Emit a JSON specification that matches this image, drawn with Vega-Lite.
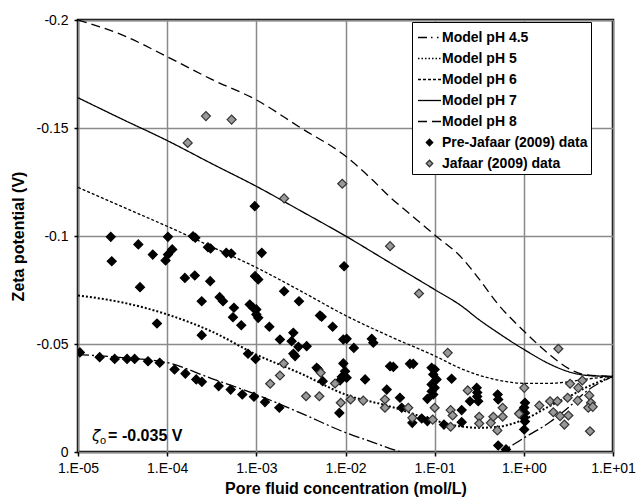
{
  "$schema": "https://vega.github.io/schema/vega-lite/v6.json",
  "width": 535,
  "height": 432,
  "autosize": {"type": "none"},
  "padding": {"left": 78, "top": 20, "right": 24, "bottom": 46},
  "background": "white",
  "config": {
    "font": "Liberation Sans",
    "view": {"stroke": "black", "strokeWidth": 2.5},
    "axis": {
      "labelFont": "Liberation Sans",
      "labelFontSize": 14,
      "labelColor": "black",
      "titleFont": "Liberation Sans",
      "titleFontSize": 16,
      "titleFontWeight": "bold",
      "titleColor": "black",
      "domain": false,
      "tickColor": "black",
      "tickSize": 4,
      "tickWidth": 1.5,
      "gridColor": "#8a8a8a",
      "gridWidth": 1.5,
      "gridOpacity": 1
    }
  },
  "datasets": {
    "models": [
      {"series": "Model pH 4.5", "c": 1e-5, "z": -0.0451},
      {"series": "Model pH 4.5", "c": 3.16e-5, "z": -0.0437},
      {"series": "Model pH 4.5", "c": 1e-4, "z": -0.0414},
      {"series": "Model pH 4.5", "c": 3.16e-4, "z": -0.0340},
      {"series": "Model pH 4.5", "c": 1e-3, "z": -0.0266},
      {"series": "Model pH 4.5", "c": 3.16e-3, "z": -0.0180},
      {"series": "Model pH 4.5", "c": 1e-2, "z": -0.0090},
      {"series": "Model pH 4.5", "c": 2e-2, "z": -0.0046},
      {"series": "Model pH 4.5", "c": 3.16e-2, "z": -0.0016},
      {"series": "Model pH 4.5", "c": 5e-2, "z": 0.0008},
      {"series": "Model pH 4.5", "c": 1e-1, "z": 0.0040},
      {"series": "Model pH 4.5", "c": 2e-1, "z": 0.0045},
      {"series": "Model pH 4.5", "c": 3.16e-1, "z": 0.0030},
      {"series": "Model pH 4.5", "c": 5e-1, "z": 0.0008},
      {"series": "Model pH 4.5", "c": 1, "z": -0.0065},
      {"series": "Model pH 4.5", "c": 2, "z": -0.0141},
      {"series": "Model pH 4.5", "c": 3.16, "z": -0.0206},
      {"series": "Model pH 4.5", "c": 5, "z": -0.0280},
      {"series": "Model pH 4.5", "c": 10, "z": -0.0350},

      {"series": "Model pH 5", "c": 1e-5, "z": -0.0725},
      {"series": "Model pH 5", "c": 3.16e-5, "z": -0.0692},
      {"series": "Model pH 5", "c": 1e-4, "z": -0.0637},
      {"series": "Model pH 5", "c": 3.16e-4, "z": -0.0558},
      {"series": "Model pH 5", "c": 1e-3, "z": -0.0451},
      {"series": "Model pH 5", "c": 3.16e-3, "z": -0.0363},
      {"series": "Model pH 5", "c": 1e-2, "z": -0.0266},
      {"series": "Model pH 5", "c": 3.16e-2, "z": -0.0211},
      {"series": "Model pH 5", "c": 1e-1, "z": -0.0146},
      {"series": "Model pH 5", "c": 2e-1, "z": -0.0118},
      {"series": "Model pH 5", "c": 3.16e-1, "z": -0.0112},
      {"series": "Model pH 5", "c": 5e-1, "z": -0.0116},
      {"series": "Model pH 5", "c": 1, "z": -0.0150},
      {"series": "Model pH 5", "c": 2, "z": -0.0215},
      {"series": "Model pH 5", "c": 3.16, "z": -0.0255},
      {"series": "Model pH 5", "c": 5, "z": -0.0299},
      {"series": "Model pH 5", "c": 10, "z": -0.0350},

      {"series": "Model pH 6", "c": 1e-5, "z": -0.1225},
      {"series": "Model pH 6", "c": 3.16e-5, "z": -0.1135},
      {"series": "Model pH 6", "c": 1e-4, "z": -0.1045},
      {"series": "Model pH 6", "c": 3.16e-4, "z": -0.0950},
      {"series": "Model pH 6", "c": 1e-3, "z": -0.0854},
      {"series": "Model pH 6", "c": 3.16e-3, "z": -0.0745},
      {"series": "Model pH 6", "c": 1e-2, "z": -0.0632},
      {"series": "Model pH 6", "c": 3.16e-2, "z": -0.0535},
      {"series": "Model pH 6", "c": 1e-1, "z": -0.0445},
      {"series": "Model pH 6", "c": 2e-1, "z": -0.0385},
      {"series": "Model pH 6", "c": 3.16e-1, "z": -0.0355},
      {"series": "Model pH 6", "c": 5e-1, "z": -0.0334},
      {"series": "Model pH 6", "c": 1, "z": -0.0318},
      {"series": "Model pH 6", "c": 2, "z": -0.0318},
      {"series": "Model pH 6", "c": 3.16, "z": -0.0325},
      {"series": "Model pH 6", "c": 5, "z": -0.0337},
      {"series": "Model pH 6", "c": 10, "z": -0.0350},

      {"series": "Model pH 7", "c": 1e-5, "z": -0.1640},
      {"series": "Model pH 7", "c": 3.16e-5, "z": -0.1540},
      {"series": "Model pH 7", "c": 1e-4, "z": -0.1442},
      {"series": "Model pH 7", "c": 3.16e-4, "z": -0.1335},
      {"series": "Model pH 7", "c": 1e-3, "z": -0.1230},
      {"series": "Model pH 7", "c": 3.16e-3, "z": -0.1116},
      {"series": "Model pH 7", "c": 1e-2, "z": -0.1000},
      {"series": "Model pH 7", "c": 3.16e-2, "z": -0.0876},
      {"series": "Model pH 7", "c": 1e-1, "z": -0.0752},
      {"series": "Model pH 7", "c": 2e-1, "z": -0.0676},
      {"series": "Model pH 7", "c": 3.16e-1, "z": -0.0612},
      {"series": "Model pH 7", "c": 5e-1, "z": -0.0555},
      {"series": "Model pH 7", "c": 1, "z": -0.0475},
      {"series": "Model pH 7", "c": 2, "z": -0.0405},
      {"series": "Model pH 7", "c": 3.16, "z": -0.0372},
      {"series": "Model pH 7", "c": 5, "z": -0.0355},
      {"series": "Model pH 7", "c": 10, "z": -0.0350},

      {"series": "Model pH 8", "c": 1e-5, "z": -0.2000},
      {"series": "Model pH 8", "c": 3.16e-5, "z": -0.1930},
      {"series": "Model pH 8", "c": 1e-4, "z": -0.1830},
      {"series": "Model pH 8", "c": 3.16e-4, "z": -0.1725},
      {"series": "Model pH 8", "c": 1e-3, "z": -0.1630},
      {"series": "Model pH 8", "c": 3.16e-3, "z": -0.1500},
      {"series": "Model pH 8", "c": 1e-2, "z": -0.1370},
      {"series": "Model pH 8", "c": 2e-2, "z": -0.1260},
      {"series": "Model pH 8", "c": 3.16e-2, "z": -0.1180},
      {"series": "Model pH 8", "c": 5e-2, "z": -0.1110},
      {"series": "Model pH 8", "c": 1e-1, "z": -0.1005},
      {"series": "Model pH 8", "c": 2e-1, "z": -0.0900},
      {"series": "Model pH 8", "c": 3.16e-1, "z": -0.0800},
      {"series": "Model pH 8", "c": 5e-1, "z": -0.0690},
      {"series": "Model pH 8", "c": 1, "z": -0.0560},
      {"series": "Model pH 8", "c": 2, "z": -0.0447},
      {"series": "Model pH 8", "c": 3.16, "z": -0.0387},
      {"series": "Model pH 8", "c": 5, "z": -0.0357},
      {"series": "Model pH 8", "c": 10, "z": -0.0350}
    ],
    "measured": [
      {"series": "Pre-Jafaar (2009) data", "c": 1.05e-5, "z": -0.0461}, {"series": "Pre-Jafaar (2009) data", "c": 1.75e-5, "z": -0.0439},
      {"series": "Pre-Jafaar (2009) data", "c": 2.58e-5, "z": -0.0431}, {"series": "Pre-Jafaar (2009) data", "c": 3.55e-5, "z": -0.0431},
      {"series": "Pre-Jafaar (2009) data", "c": 4.32e-5, "z": -0.0431}, {"series": "Pre-Jafaar (2009) data", "c": 6.1e-5, "z": -0.0420},
      {"series": "Pre-Jafaar (2009) data", "c": 8.25e-5, "z": -0.0413}, {"series": "Pre-Jafaar (2009) data", "c": 1.21e-4, "z": -0.0382},
      {"series": "Pre-Jafaar (2009) data", "c": 1.6e-4, "z": -0.0363}, {"series": "Pre-Jafaar (2009) data", "c": 2.12e-4, "z": -0.0336},
      {"series": "Pre-Jafaar (2009) data", "c": 2.45e-4, "z": -0.0325}, {"series": "Pre-Jafaar (2009) data", "c": 3.78e-4, "z": -0.0305},
      {"series": "Pre-Jafaar (2009) data", "c": 5.15e-4, "z": -0.0289}, {"series": "Pre-Jafaar (2009) data", "c": 6.96e-4, "z": -0.0266},
      {"series": "Pre-Jafaar (2009) data", "c": 9.4e-4, "z": -0.0256}, {"series": "Pre-Jafaar (2009) data", "c": 1.25e-3, "z": -0.0231},
      {"series": "Pre-Jafaar (2009) data", "c": 1.81e-3, "z": -0.0205}, {"series": "Pre-Jafaar (2009) data", "c": 7.69e-5, "z": -0.0595},
      {"series": "Pre-Jafaar (2009) data", "c": 2.44e-4, "z": -0.0541}, {"series": "Pre-Jafaar (2009) data", "c": 6.78e-4, "z": -0.0587},
      {"series": "Pre-Jafaar (2009) data", "c": 5.47e-4, "z": -0.0624}, {"series": "Pre-Jafaar (2009) data", "c": 8.07e-4, "z": -0.0455},
      {"series": "Pre-Jafaar (2009) data", "c": 9.8e-4, "z": -0.0431}, {"series": "Pre-Jafaar (2009) data", "c": 2.44e-4, "z": -0.0698},
      {"series": "Pre-Jafaar (2009) data", "c": 4.96e-5, "z": -0.0763}, {"series": "Pre-Jafaar (2009) data", "c": 1.58e-4, "z": -0.0806},
      {"series": "Pre-Jafaar (2009) data", "c": 2.04e-4, "z": -0.0817}, {"series": "Pre-Jafaar (2009) data", "c": 3.04e-4, "z": -0.0791},
      {"series": "Pre-Jafaar (2009) data", "c": 2.39e-5, "z": -0.0883}, {"series": "Pre-Jafaar (2009) data", "c": 4.75e-5, "z": -0.0961},
      {"series": "Pre-Jafaar (2009) data", "c": 6.89e-5, "z": -0.0914}, {"series": "Pre-Jafaar (2009) data", "c": 1.02e-4, "z": -0.0996},
      {"series": "Pre-Jafaar (2009) data", "c": 1.14e-4, "z": -0.0938}, {"series": "Pre-Jafaar (2009) data", "c": 1.02e-4, "z": -0.0914},
      {"series": "Pre-Jafaar (2009) data", "c": 9.6e-5, "z": -0.0887}, {"series": "Pre-Jafaar (2009) data", "c": 3.88e-4, "z": -0.0717},
      {"series": "Pre-Jafaar (2009) data", "c": 4.23e-4, "z": -0.0698}, {"series": "Pre-Jafaar (2009) data", "c": 2.33e-5, "z": -0.0996},
      {"series": "Pre-Jafaar (2009) data", "c": 1.95e-4, "z": -0.0999}, {"series": "Pre-Jafaar (2009) data", "c": 2.07e-4, "z": -0.0992},
      {"series": "Pre-Jafaar (2009) data", "c": 2.87e-4, "z": -0.0948}, {"series": "Pre-Jafaar (2009) data", "c": 3.07e-4, "z": -0.0942},
      {"series": "Pre-Jafaar (2009) data", "c": 4.6e-4, "z": -0.0922}, {"series": "Pre-Jafaar (2009) data", "c": 5.23e-4, "z": -0.0919},
      {"series": "Pre-Jafaar (2009) data", "c": 9.6e-4, "z": -0.1138}, {"series": "Pre-Jafaar (2009) data", "c": 9.67e-4, "z": -0.0814},
      {"series": "Pre-Jafaar (2009) data", "c": 1.05e-3, "z": -0.0799}, {"series": "Pre-Jafaar (2009) data", "c": 5.61e-4, "z": -0.0668},
      {"series": "Pre-Jafaar (2009) data", "c": 8.44e-4, "z": -0.0683}, {"series": "Pre-Jafaar (2009) data", "c": 9.2e-4, "z": -0.0668},
      {"series": "Pre-Jafaar (2009) data", "c": 1.0e-3, "z": -0.0660}, {"series": "Pre-Jafaar (2009) data", "c": 1.0e-3, "z": -0.0637},
      {"series": "Pre-Jafaar (2009) data", "c": 1.05e-3, "z": -0.0621}, {"series": "Pre-Jafaar (2009) data", "c": 1.15e-3, "z": -0.0922},
      {"series": "Pre-Jafaar (2009) data", "c": 2.05e-3, "z": -0.0744}, {"series": "Pre-Jafaar (2009) data", "c": 3.01e-3, "z": -0.0698},
      {"series": "Pre-Jafaar (2009) data", "c": 1.4e-3, "z": -0.0580}, {"series": "Pre-Jafaar (2009) data", "c": 1.84e-3, "z": -0.0521},
      {"series": "Pre-Jafaar (2009) data", "c": 2.6e-3, "z": -0.0552}, {"series": "Pre-Jafaar (2009) data", "c": 2.49e-3, "z": -0.0513},
      {"series": "Pre-Jafaar (2009) data", "c": 2.96e-3, "z": -0.0487}, {"series": "Pre-Jafaar (2009) data", "c": 3.67e-3, "z": -0.0490},
      {"series": "Pre-Jafaar (2009) data", "c": 5.17e-3, "z": -0.0632}, {"series": "Pre-Jafaar (2009) data", "c": 5.4e-3, "z": -0.0626},
      {"series": "Pre-Jafaar (2009) data", "c": 7.18e-3, "z": -0.0580}, {"series": "Pre-Jafaar (2009) data", "c": 9.64e-3, "z": -0.0860},
      {"series": "Pre-Jafaar (2009) data", "c": 9.46e-3, "z": -0.0521}, {"series": "Pre-Jafaar (2009) data", "c": 1.03e-2, "z": -0.0524},
      {"series": "Pre-Jafaar (2009) data", "c": 1.24e-2, "z": -0.0482}, {"series": "Pre-Jafaar (2009) data", "c": 1.97e-2, "z": -0.0524},
      {"series": "Pre-Jafaar (2009) data", "c": 2.05e-2, "z": -0.0506}, {"series": "Pre-Jafaar (2009) data", "c": 2.6e-3, "z": -0.0455},
      {"series": "Pre-Jafaar (2009) data", "c": 2.72e-3, "z": -0.0444}, {"series": "Pre-Jafaar (2009) data", "c": 4.75e-3, "z": -0.0390},
      {"series": "Pre-Jafaar (2009) data", "c": 4.95e-3, "z": -0.0382}, {"series": "Pre-Jafaar (2009) data", "c": 5.55e-3, "z": -0.0328},
      {"series": "Pre-Jafaar (2009) data", "c": 9.46e-3, "z": -0.0410}, {"series": "Pre-Jafaar (2009) data", "c": 9.89e-3, "z": -0.0374},
      {"series": "Pre-Jafaar (2009) data", "c": 1.03e-2, "z": -0.0344}, {"series": "Pre-Jafaar (2009) data", "c": 8.69e-3, "z": -0.0331},
      {"series": "Pre-Jafaar (2009) data", "c": 9.08e-3, "z": -0.0348}, {"series": "Pre-Jafaar (2009) data", "c": 1.66e-2, "z": -0.0336},
      {"series": "Pre-Jafaar (2009) data", "c": 8.53e-3, "z": -0.0181}, {"series": "Pre-Jafaar (2009) data", "c": 2.9e-2, "z": -0.0289},
      {"series": "Pre-Jafaar (2009) data", "c": 3.16e-2, "z": -0.0397}, {"series": "Pre-Jafaar (2009) data", "c": 3.44e-2, "z": -0.0394},
      {"series": "Pre-Jafaar (2009) data", "c": 4.08e-2, "z": -0.0251}, {"series": "Pre-Jafaar (2009) data", "c": 4.27e-2, "z": -0.0205},
      {"series": "Pre-Jafaar (2009) data", "c": 5.28e-2, "z": -0.0408}, {"series": "Pre-Jafaar (2009) data", "c": 5.75e-2, "z": -0.0408},
      {"series": "Pre-Jafaar (2009) data", "c": 5.61e-2, "z": -0.0135}, {"series": "Pre-Jafaar (2009) data", "c": 7.16e-2, "z": -0.0155},
      {"series": "Pre-Jafaar (2009) data", "c": 8.28e-2, "z": -0.0143}, {"series": "Pre-Jafaar (2009) data", "c": 9.25e-2, "z": -0.0390},
      {"series": "Pre-Jafaar (2009) data", "c": 0.1, "z": -0.0382}, {"series": "Pre-Jafaar (2009) data", "c": 9.64e-2, "z": -0.0359},
      {"series": "Pre-Jafaar (2009) data", "c": 0.105, "z": -0.0336}, {"series": "Pre-Jafaar (2009) data", "c": 9.25e-2, "z": -0.0313},
      {"series": "Pre-Jafaar (2009) data", "c": 0.1, "z": -0.0297}, {"series": "Pre-Jafaar (2009) data", "c": 9.25e-2, "z": -0.0281},
      {"series": "Pre-Jafaar (2009) data", "c": 9.64e-2, "z": -0.0266}, {"series": "Pre-Jafaar (2009) data", "c": 8.28e-2, "z": -0.0246},
      {"series": "Pre-Jafaar (2009) data", "c": 0.155, "z": -0.0339}, {"series": "Pre-Jafaar (2009) data", "c": 0.127, "z": -0.0127},
      {"series": "Pre-Jafaar (2009) data", "c": 0.201, "z": -0.0194}, {"series": "Pre-Jafaar (2009) data", "c": 0.201, "z": -0.0138},
      {"series": "Pre-Jafaar (2009) data", "c": 0.249, "z": -0.0235}, {"series": "Pre-Jafaar (2009) data", "c": 0.296, "z": -0.0297},
      {"series": "Pre-Jafaar (2009) data", "c": 0.3, "z": -0.0275}, {"series": "Pre-Jafaar (2009) data", "c": 0.3, "z": -0.0257},
      {"series": "Pre-Jafaar (2009) data", "c": 0.308, "z": -0.0235}, {"series": "Pre-Jafaar (2009) data", "c": 0.509, "z": -0.0266},
      {"series": "Pre-Jafaar (2009) data", "c": 0.516, "z": -0.0243}, {"series": "Pre-Jafaar (2009) data", "c": 0.906, "z": -0.0181},
      {"series": "Pre-Jafaar (2009) data", "c": 1.03, "z": -0.0228}, {"series": "Pre-Jafaar (2009) data", "c": 1.01, "z": -0.0206},
      {"series": "Pre-Jafaar (2009) data", "c": 1.03, "z": -0.0181}, {"series": "Pre-Jafaar (2009) data", "c": 1.01, "z": -0.0158},
      {"series": "Pre-Jafaar (2009) data", "c": 1.03, "z": -0.0141}, {"series": "Pre-Jafaar (2009) data", "c": 1.01, "z": -0.0104},
      {"series": "Pre-Jafaar (2009) data", "c": 0.516, "z": -0.0030}, {"series": "Pre-Jafaar (2009) data", "c": 0.631, "z": -0.0012},
      {"series": "Jafaar (2009) data", "c": 1.7e-4, "z": -0.1431}, {"series": "Jafaar (2009) data", "c": 2.72e-4, "z": -0.1555},
      {"series": "Jafaar (2009) data", "c": 5.28e-4, "z": -0.1539}, {"series": "Jafaar (2009) data", "c": 2.05e-3, "z": -0.1174},
      {"series": "Jafaar (2009) data", "c": 9.2e-3, "z": -0.1242}, {"series": "Jafaar (2009) data", "c": 3.16e-2, "z": -0.0953},
      {"series": "Jafaar (2009) data", "c": 6.67e-2, "z": -0.0734}, {"series": "Jafaar (2009) data", "c": 0.14, "z": -0.0459},
      {"series": "Jafaar (2009) data", "c": 2.44, "z": -0.0478}, {"series": "Jafaar (2009) data", "c": 1.01, "z": -0.0297},
      {"series": "Jafaar (2009) data", "c": 2.03e-3, "z": -0.0410}, {"series": "Jafaar (2009) data", "c": 1.84e-3, "z": -0.0354},
      {"series": "Jafaar (2009) data", "c": 1.43e-3, "z": -0.0316}, {"series": "Jafaar (2009) data", "c": 3.61e-3, "z": -0.0258},
      {"series": "Jafaar (2009) data", "c": 5.09e-3, "z": -0.0258}, {"series": "Jafaar (2009) data", "c": 5.27e-3, "z": -0.0367},
      {"series": "Jafaar (2009) data", "c": 7.63e-3, "z": -0.0317}, {"series": "Jafaar (2009) data", "c": 8.85e-3, "z": -0.0228},
      {"series": "Jafaar (2009) data", "c": 1.14e-2, "z": -0.0243}, {"series": "Jafaar (2009) data", "c": 1.58e-2, "z": -0.0238},
      {"series": "Jafaar (2009) data", "c": 2.77e-2, "z": -0.0243}, {"series": "Jafaar (2009) data", "c": 2.77e-2, "z": -0.0205},
      {"series": "Jafaar (2009) data", "c": 5.06e-2, "z": -0.0205}, {"series": "Jafaar (2009) data", "c": 5.61e-2, "z": -0.0158},
      {"series": "Jafaar (2009) data", "c": 0.1, "z": -0.0205}, {"series": "Jafaar (2009) data", "c": 9.5e-2, "z": -0.0150},
      {"series": "Jafaar (2009) data", "c": 0.151, "z": -0.0194}, {"series": "Jafaar (2009) data", "c": 0.159, "z": -0.0169},
      {"series": "Jafaar (2009) data", "c": 0.151, "z": -0.0117}, {"series": "Jafaar (2009) data", "c": 0.235, "z": -0.0285},
      {"series": "Jafaar (2009) data", "c": 0.316, "z": -0.0163}, {"series": "Jafaar (2009) data", "c": 0.316, "z": -0.0132},
      {"series": "Jafaar (2009) data", "c": 0.426, "z": -0.0135}, {"series": "Jafaar (2009) data", "c": 0.455, "z": -0.0163},
      {"series": "Jafaar (2009) data", "c": 0.505, "z": -0.0100}, {"series": "Jafaar (2009) data", "c": 0.579, "z": -0.0205},
      {"series": "Jafaar (2009) data", "c": 0.579, "z": -0.0163}, {"series": "Jafaar (2009) data", "c": 0.884, "z": -0.0177},
      {"series": "Jafaar (2009) data", "c": 1.49, "z": -0.0215}, {"series": "Jafaar (2009) data", "c": 1.97, "z": -0.0235},
      {"series": "Jafaar (2009) data", "c": 2.38, "z": -0.0235}, {"series": "Jafaar (2009) data", "c": 2.14, "z": -0.0184},
      {"series": "Jafaar (2009) data", "c": 2.55, "z": -0.0166}, {"series": "Jafaar (2009) data", "c": 2.85, "z": -0.0127},
      {"series": "Jafaar (2009) data", "c": 3.16, "z": -0.0169}, {"series": "Jafaar (2009) data", "c": 3.1, "z": -0.0251},
      {"series": "Jafaar (2009) data", "c": 3.3, "z": -0.0316}, {"series": "Jafaar (2009) data", "c": 4.02, "z": -0.0238},
      {"series": "Jafaar (2009) data", "c": 4.08, "z": -0.0297}, {"series": "Jafaar (2009) data", "c": 4.53, "z": -0.0331},
      {"series": "Jafaar (2009) data", "c": 5.42, "z": -0.0262}, {"series": "Jafaar (2009) data", "c": 5.52, "z": -0.0096},
      {"series": "Jafaar (2009) data", "c": 5.66, "z": -0.0228}, {"series": "Jafaar (2009) data", "c": 5.28, "z": -0.0205},
      {"series": "Jafaar (2009) data", "c": 5.93, "z": -0.0209}
    ],
    "note": [
      {"symbol": "ζ", "sub": "o", "text": "= -0.035 V"}
    ]
  },
  "layer": [
    {
      "data": {"name": "models"},
      "mark": {"type": "line", "color": "black", "clip": true, "interpolate": "monotone"},
      "encoding": {
        "x": {
          "field": "c",
          "type": "quantitative",
          "title": "Pore fluid concentration (mol/L)",
          "scale": {"type": "log", "domain": [1e-5, 10], "nice": false},
          "axis": {
            "values": [1e-5, 1e-4, 1e-3, 1e-2, 1e-1, 1, 10],
            "labelExpr": "'1.E' + (datum.value >= 1 ? '+' : '-') + format(abs(round(log(datum.value) / LN10)), '02d')",
            "labelPadding": 5,
            "titlePadding": 5,
            "labelFlush": false,
            "labelOverlap": false
          }
        },
        "y": {
          "field": "z",
          "type": "quantitative",
          "title": "Zeta potential (V)",
          "scale": {"domain": [-0.2, 0], "reverse": true, "nice": false, "zero": false},
          "axis": {
            "values": [-0.2, -0.15, -0.1, -0.05, 0],
            "labelExpr": "datum.value == 0 ? '0' : '-' + format(-datum.value, '~g')",
            "labelPadding": 6,
            "titlePadding": 10,
            "labelFlush": false,
            "labelOverlap": false
          }
        },
        "strokeWidth": {
          "condition": {"test": "datum.series == 'Model pH 5'", "value": 2},
          "value": 1.3
        },
        "strokeDash": {
          "field": "series",
          "type": "nominal",
          "scale": {
            "domain": ["Model pH 4.5", "Model pH 5", "Model pH 6", "Model pH 7", "Model pH 8"],
            "range": [[11, 3, 2, 3], [2, 2], [3, 2], [1, 0], [9, 5]]
          },
          "legend": null
        }
      }
    },
    {
      "data": {"name": "measured"},
      "mark": {"type": "point", "filled": true, "size": 1024, "strokeWidth": 1.2, "opacity": 1, "clip": true},
      "encoding": {
        "x": {"field": "c", "type": "quantitative"},
        "y": {"field": "z", "type": "quantitative"},
        "shape": {
          "field": "series",
          "type": "nominal",
          "scale": {
            "domain": ["Model pH 4.5", "Model pH 5", "Model pH 6", "Model pH 7", "Model pH 8", "Pre-Jafaar (2009) data", "Jafaar (2009) data"],
            "range": [
              "M-1,0H-0.217M0.13,0H0.261M0.652,0H0.783",
              "M-1,0H-0.87M-0.696,0H-0.565M-0.391,0H-0.261M-0.087,0H0.043M0.217,0H0.348M0.522,0H0.652M0.826,0H0.957",
              "M-1,0H-0.739M-0.565,0H-0.304M-0.13,0H0.13M0.304,0H0.565M0.739,0H1",
              "M-1,0H1",
              "M-1,0H-0.217M0.217,0H1",
              "M-0.28,0L0,-0.28L0.28,0L0,0.28Z",
              "M-0.28,0L0,-0.28L0.28,0L0,0.28Z"
            ]
          },
          "legend": {
            "title": null,
            "orient": "none",
            "legendX": 334,
            "legendY": 2,
            "strokeColor": "black",
            "fillColor": "white",
            "padding": 3,
            "labelFont": "Liberation Sans",
            "labelFontSize": 14,
            "labelFontWeight": "bold",
            "labelColor": "black",
            "labelLimit": 300,
            "labelOffset": 0,
            "rowPadding": 1,
            "symbolOffset": 2,
            "symbolSize": 529,
            "symbolStrokeWidth": 1.3
          }
        },
        "fill": {
          "field": "series",
          "type": "nominal",
          "scale": {
            "domain": ["Model pH 4.5", "Model pH 5", "Model pH 6", "Model pH 7", "Model pH 8", "Pre-Jafaar (2009) data", "Jafaar (2009) data"],
            "range": ["transparent", "transparent", "transparent", "transparent", "transparent", "#000000", "#999999"]
          }
        },
        "stroke": {
          "field": "series",
          "type": "nominal",
          "scale": {
            "domain": ["Model pH 4.5", "Model pH 5", "Model pH 6", "Model pH 7", "Model pH 8", "Pre-Jafaar (2009) data", "Jafaar (2009) data"],
            "range": ["#000000", "#000000", "#000000", "#000000", "#000000", "#000000", "#333333"]
          }
        }
      }
    },
    {
      "data": {"name": "note"},
      "mark": {"type": "text", "font": "DejaVu Sans", "fontStyle": "italic", "fontSize": 15, "align": "left", "baseline": "alphabetic", "color": "black"},
      "encoding": {
        "x": {"datum": 1.44e-5, "type": "quantitative"},
        "y": {"datum": -0.0049, "type": "quantitative"},
        "text": {"field": "symbol", "type": "nominal"}
      }
    },
    {
      "data": {"name": "note"},
      "mark": {"type": "text", "font": "Liberation Sans", "fontSize": 11, "align": "left", "baseline": "alphabetic", "dx": 8, "dy": 3, "color": "black"},
      "encoding": {
        "x": {"datum": 1.44e-5, "type": "quantitative"},
        "y": {"datum": -0.0049, "type": "quantitative"},
        "text": {"field": "sub", "type": "nominal"}
      }
    },
    {
      "data": {"name": "note"},
      "mark": {"type": "text", "font": "Liberation Sans", "fontSize": 16, "fontWeight": "bold", "align": "left", "baseline": "alphabetic", "dx": 16, "color": "black"},
      "encoding": {
        "x": {"datum": 1.44e-5, "type": "quantitative"},
        "y": {"datum": -0.0049, "type": "quantitative"},
        "text": {"field": "text", "type": "nominal"}
      }
    }
  ]
}
